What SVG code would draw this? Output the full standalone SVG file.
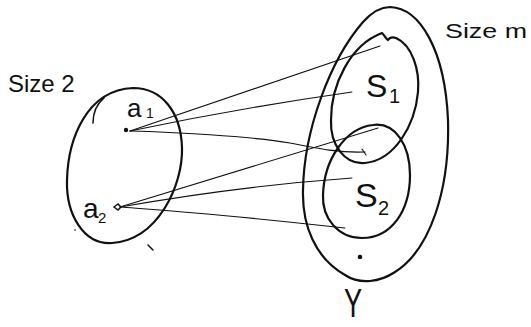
<svg xmlns="http://www.w3.org/2000/svg" width="531" height="327" viewBox="0 0 531 327">
<style>
.set{fill:none;stroke:#111;stroke-width:2.2;stroke-linecap:round;stroke-linejoin:round}
.ln{fill:none;stroke:#111;stroke-width:1.1;stroke-linecap:round}
.t{font-family:"Liberation Sans",Arial,sans-serif;fill:#111}
.pt{fill:#111}
</style>
<rect width="531" height="327" fill="#fff"/>
<g id="connectors">
<path class="ln" d="M130,131 L380,46"/>
<path class="ln" d="M130,131 Q240,108 352,92"/>
<path class="ln" d="M130,131 C170,132 250,136 290,143 C320,149 340,153 365,152"/>
<path class="ln" d="M362,149 L366,155"/>
<path class="ln" d="M120,207 L378,128"/>
<path class="ln" d="M120,207 Q240,186 352,178"/>
<path class="ln" d="M120,207 C160,210 200,212 345,228"/>
</g>
<g id="setA">
<path class="set" d="M133,88 C162,88 181,112 182,148 C183,185 158,240 112,243 C84,245 66,215 67,180 C68,140 86,90 133,88 Z"/>
<path class="set" d="M93,123 C93,112 98,103 104,98" style="stroke-width:1.6"/>
<path class="ln" d="M148,245 L153,250" style="stroke-width:1.5"/>
<circle class="pt" cx="75" cy="230" r="0.8"/>
<text class="t" x="8" y="92" font-size="24">Size 2</text>
</g>
<g id="a1">
<circle class="pt" cx="126" cy="130" r="2.2"/>
<text class="t" x="127" y="117" font-size="26">a</text>
<text class="t" x="146" y="118" font-size="14">1</text>
</g>
<g id="a2">
<path d="M114,207 L118,204 L121,207 L118,210 Z" fill="none" stroke="#111" stroke-width="1.5"/>
<text class="t" x="83" y="218" font-size="28">a</text>
<text class="t" x="98" y="223" font-size="15">2</text>
</g>
<g id="setY">
<path class="set" d="M390,7 C420,8 445,50 448,120 C450,190 430,250 395,272 C380,282 360,285 345,275 C315,258 302,225 303,190 C304,130 330,60 363,22 C372,12 380,7 390,7 Z"/>
<circle class="pt" cx="360" cy="257" r="2.3"/>
<text class="t" x="445" y="38" font-size="21" textLength="82" lengthAdjust="spacingAndGlyphs">Size m</text>
<text class="t" x="353" y="317" text-anchor="middle" font-size="40" transform="translate(353,0) scale(0.68,1) translate(-353,0)">Y</text>
</g>
<g id="S1">
<path class="set" d="M382,33 C385,36 386,39 388,40 C390,37 393,37 396,38 C412,45 420,70 418,92 C415,125 395,160 365,163 C345,165 330,145 331,120 C331,85 350,45 382,33 Z"/>
<text class="t" x="366" y="97" font-size="32">S</text>
<text class="t" x="389" y="103" font-size="20">1</text>
</g>
<g id="S2">
<path class="set" d="M373,125 C395,122 410,145 410,175 C410,210 392,238 362,238 C338,238 322,218 323,195 C324,160 345,128 373,125 Z"/>
<text class="t" x="355" y="207" font-size="34">S</text>
<text class="t" x="378" y="215" font-size="20">2</text>
</g>
</svg>
